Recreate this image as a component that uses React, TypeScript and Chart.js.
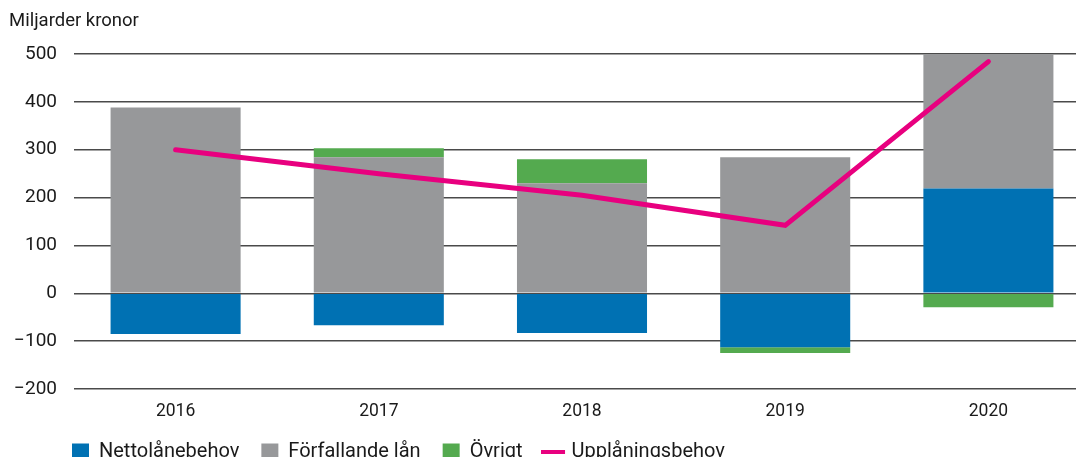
import React, { useEffect, useRef } from "react";
import { Chart, registerables } from "chart.js";

Chart.register(...registerables);

const categories = ["2016", "2017", "2018", "2019", "2020"];
const nettolanebehov = [-85, -67, -83, -113, 219];
const forfallandeLan = [388, 284, 230, 284, 281];
const ovrigt = [0, 19, 50, -12, -29];
const upplaningsbehov = [300, 250, 205, 142, 484];
const yTicks = [500, 400, 300, 200, 100, 0, -100, -200];
const unitLabel = "Miljarder kronor";

const FONT = "Roboto, 'Noto Sans', sans-serif";

const titlePlugin = {
  id: "unitTitle",
  afterDraw(chart: any) {
    const ctx = chart.ctx;
    ctx.save();
    ctx.font = `18.5px ${FONT}`;
    ctx.fillStyle = "#1a1a1a";
    ctx.textBaseline = "middle";
    ctx.textAlign = "left";
    ctx.fillText(unitLabel, 9, 21);
    ctx.restore();
  },
};

const legendShift = {
  id: "legendShift",
  afterLayout(chart: any) {
    const lg = chart.legend;
    if (lg) {
      lg.left = 50;
      lg.top = 420;
    }
  },
};

export default function App() {
  const ref = useRef<HTMLCanvasElement>(null);
  useEffect(() => {
    if (!ref.current) return;
    const chart = new Chart(ref.current, {
      type: "bar",
      data: {
        labels: categories,
        datasets: [
          {
            type: "bar",
            label: "Nettolånebehov",
            data: nettolanebehov,
            backgroundColor: "#0071b3",
            stack: "s",
            order: 1,
          },
          {
            type: "bar",
            label: "Förfallande lån",
            data: forfallandeLan,
            backgroundColor: "#97989a",
            stack: "s",
            order: 1,
          },
          {
            type: "bar",
            label: "Övrigt",
            data: ovrigt,
            backgroundColor: "#54aa4f",
            stack: "s",
            order: 1,
          },
          {
            type: "line",
            label: "Upplåningsbehov",
            data: upplaningsbehov,
            borderColor: "#e8007f",
            backgroundColor: "#e8007f",
            borderWidth: 5,
            pointRadius: 0,
            borderCapStyle: "round",
            stack: "line",
            order: 0,
          } as any,
        ],
      },
      options: {
        animation: false,
        responsive: true,
        maintainAspectRatio: false,
        datasets: {
          bar: { barPercentage: 0.64, categoryPercentage: 1 },
        } as any,
        layout: { padding: { left: 0, right: 0, top: 54, bottom: 0 } },
        plugins: {
          title: { display: false },
          tooltip: { enabled: false },
          legend: {
            display: true,
            position: "bottom",
            align: "start",
            labels: {
              usePointStyle: true,
              boxWidth: 17,
              boxHeight: 17,
              padding: 22,
              color: "#1a1a1a",
              font: { family: FONT, size: 20 },
              sort: (a: any, b: any) => a.datasetIndex - b.datasetIndex,
              generateLabels: (chart: any) => {
                const items = Chart.defaults.plugins.legend.labels.generateLabels(chart);
                return items.map((it: any) => {
                  const ds = chart.data.datasets[it.datasetIndex];
                  if (ds.type === "line") {
                    return { ...it, pointStyle: "line", lineWidth: 4, strokeStyle: ds.borderColor };
                  }
                  return { ...it, pointStyle: "rect", lineWidth: 0 };
                });
              },
            },
          },
        },
        scales: {
          x: {
            stacked: true,
            grid: { display: false },
            border: { display: false },
            ticks: {
              color: "#1a1a1a",
              font: { family: FONT, size: 17.5 },
              padding: 4,
            },
            afterFit: (s: any) => {
              s.height = 30;
            },
          },
          y: {
            stacked: true,
            min: -200,
            max: 500,
            afterBuildTicks: (s: any) => {
              s.ticks = yTicks.map((v) => ({ value: v }));
            },
            afterFit: (s: any) => {
              s.width = 74;
            },
            grid: {
              color: "#4a4a4a",
              lineWidth: 1.5,
              drawTicks: false,
            },
            border: { display: false },
            ticks: {
              color: "#1a1a1a",
              font: { family: FONT, size: 19 },
              padding: 17,
              callback: (v: any) => (Number(v) < 0 ? "\u2212" + Math.abs(Number(v)) : String(v)),
            },
          },
        },
      },
      plugins: [titlePlugin, legendShift],
    });
    return () => chart.destroy();
  }, []);

  return (
    <div style={{ position: "fixed", left: 0, top: 0, width: 1076, height: 457, overflow: "hidden", background: "#fff" }}>
      <div style={{ position: "relative", width: 1090, height: 471 }}>
        <canvas ref={ref} />
      </div>
    </div>
  );
}
